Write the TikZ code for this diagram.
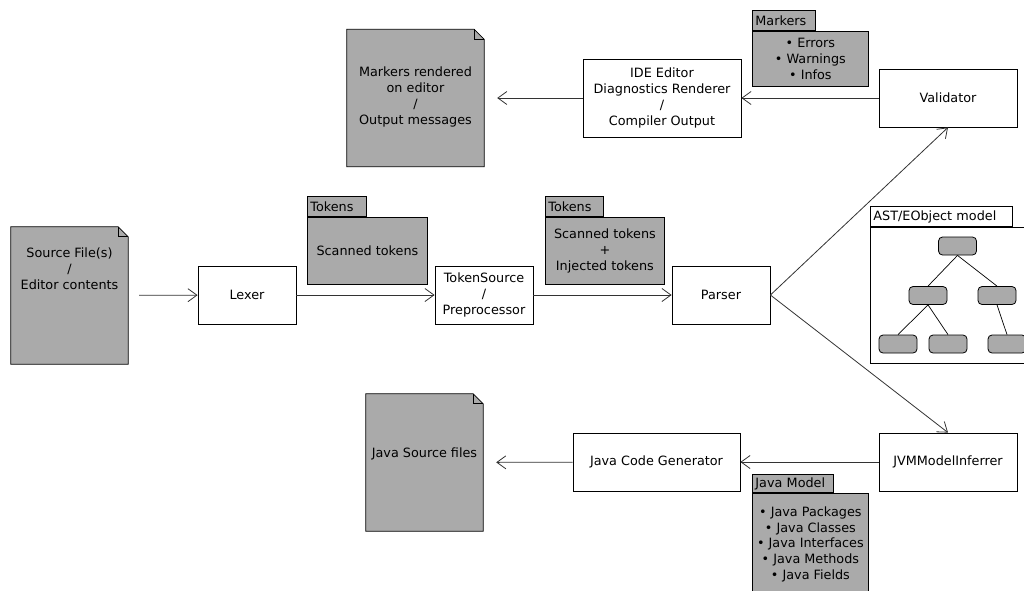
\documentclass[tikz,border=0pt]{standalone}
\usepackage{fontspec}
\setmainfont{DejaVu Sans}
\usetikzlibrary{arrows.meta,calc}
\definecolor{gfill}{HTML}{AAAAAA}
\definecolor{lcol}{HTML}{333333}
\newcommand\docshape[1]{%
  \draw[docline] (#1.north west) -- ([xshift=-10pt]#1.north east) -- ([yshift=-10pt]#1.north east) -- (#1.south east) -- (#1.south west) -- cycle;
  \draw[line width=0.8pt] ([xshift=-10pt]#1.north east) |- ([yshift=-10pt]#1.north east);}
\begin{document}
\begin{tikzpicture}[x=1pt,y=-1pt,
  font=\fontsize{12.8}{15.8}\selectfont,
  process/.style={draw=black, fill=white, line width=0.8pt, align=center, inner sep=0pt},
  docnode/.style={draw=none, inner sep=0pt},
  docline/.style={draw=black, fill=gfill, line width=0.8pt},
  fbody/.style={draw=black, fill=gfill, line width=0.8pt, align=center, inner sep=0pt},
  ftab/.style={draw=black, fill=gfill, line width=0.8pt, inner xsep=3pt, inner ysep=0pt, align=left, minimum height=20pt},
  tnode/.style={draw=black, fill=gfill, line width=0.8pt, rounded corners=4pt, minimum width=38pt, minimum height=18pt, inner sep=0pt},
  tedge/.style={draw=black, line width=0.7pt},
  flow/.style={draw=lcol, line width=0.8pt, -{Straight Barb[length=9pt,width=13pt,line width=0.8pt]}},
  txt/.style={align=center, inner sep=0pt}]
\useasboundingbox (0,0) rectangle (1024,590);
\clip (0,0) rectangle (1024,590);

% documents
\node[docnode, minimum width=117pt, minimum height=137pt] (src) at (69.5,295.5) {};
\docshape{src}
\node[txt] (srct) at (69.5,269) {Source File(s)\\/\\Editor contents};

\node[docnode, minimum width=137pt, minimum height=137pt] (mdoc) at (415.5,98) {};
\docshape{mdoc}
\node[txt] (mdoct) at (415.5,97) {Markers rendered\\on editor\\/\\Output messages};

\node[docnode, minimum width=117pt, minimum height=137pt] (jdoc) at (424.5,462.5) {};
\docshape{jdoc}
\node[txt] (jdoct) at (424.5,454) {Java Source files};

% process boxes
\node[process, minimum width=98pt, minimum height=58pt] (lexer) at (247,295) {Lexer};
\node[process, minimum width=98pt, minimum height=58pt] (tsrc) at (484,295) {TokenSource\\/\\Preprocessor};
\node[process, minimum width=98pt, minimum height=58pt] (parser) at (721,295) {Parser};
\node[process, minimum width=138pt, minimum height=58pt] (validator) at (948,98) {Validator};
\node[process, minimum width=138pt, minimum height=58pt] (jvm) at (948,462) {JVMModelInferrer};
\node[process, minimum width=158pt, minimum height=78pt] (ide) at (662,98) {IDE Editor\\Diagnostics Renderer\\/\\Compiler Output};
\node[process, minimum width=167pt, minimum height=58pt] (jcg) at (656.5,462) {Java Code Generator};

% folders
\node[ftab, text width=53pt, anchor=south west] (tok1tab) at (307,217) {Tokens};
\node[fbody, minimum width=120pt, minimum height=67pt, anchor=north west] (tok1) at (307,217) {Scanned tokens};

\node[ftab, text width=52pt, anchor=south west] (tok2tab) at (545,217) {Tokens};
\node[fbody, minimum width=119pt, minimum height=67pt, anchor=north west] (tok2) at (545,217) {Scanned tokens\\+\\Injected tokens};

\node[ftab, text width=57pt, anchor=south west] (mktab) at (752,31) {Markers};
\node[fbody, minimum width=116pt, minimum height=55pt, anchor=north west] (mk) at (752,31) {\textbullet\ Errors\\\textbullet\ Warnings\\\textbullet\ Infos};

\node[ftab, text width=75pt, minimum height=18pt, anchor=south west] (jmtab) at (752,493) {Java Model};
\node[fbody, minimum width=116pt, minimum height=102pt, anchor=north west] (jm) at (752,493) {\textbullet\ Java Packages\\\textbullet\ Java Classes\\\textbullet\ Java Interfaces\\\textbullet\ Java Methods\\\textbullet\ Java Fields};

\node[ftab, fill=white, text width=136pt, anchor=south west] (asttab) at (870,227) {AST/EObject model};
\node[fbody, fill=white, minimum width=160pt, minimum height=136pt, anchor=north west] (ast) at (870,227) {};

% tree
\node[tnode] (a0) at (957.5,246) {};
\node[tnode] (a1) at (928,295.5) {};
\node[tnode] (a2) at (997,295.5) {};
\node[tnode] (a3) at (898,344) {};
\node[tnode] (a4) at (948,344) {};
\node[tnode] (a5) at (1007,344) {};
\draw[tedge] (a0.south) -- (a1.north);
\draw[tedge] (a0.south) -- (a2.north);
\draw[tedge] (a1.south) -- (a3.north);
\draw[tedge] (a1.south) -- (a4.north);
\draw[tedge] (a2.south) -- (a5.north);

% connectors
\draw[flow, shorten <=11pt] (src) -- (lexer);
\draw[flow] (lexer) -- (tsrc);
\draw[flow] (tsrc) -- (parser);
\draw[flow] (parser.east) -- (validator.south);
\draw[flow] (parser.east) -- (jvm.north);
\draw[flow] (validator) -- (ide);
\draw[flow, shorten >=13pt] (ide) -- (mdoc);
\draw[flow] (jvm) -- (jcg);
\draw[flow, shorten >=13pt] (jcg) -- (jdoc);
\end{tikzpicture}
\end{document}
